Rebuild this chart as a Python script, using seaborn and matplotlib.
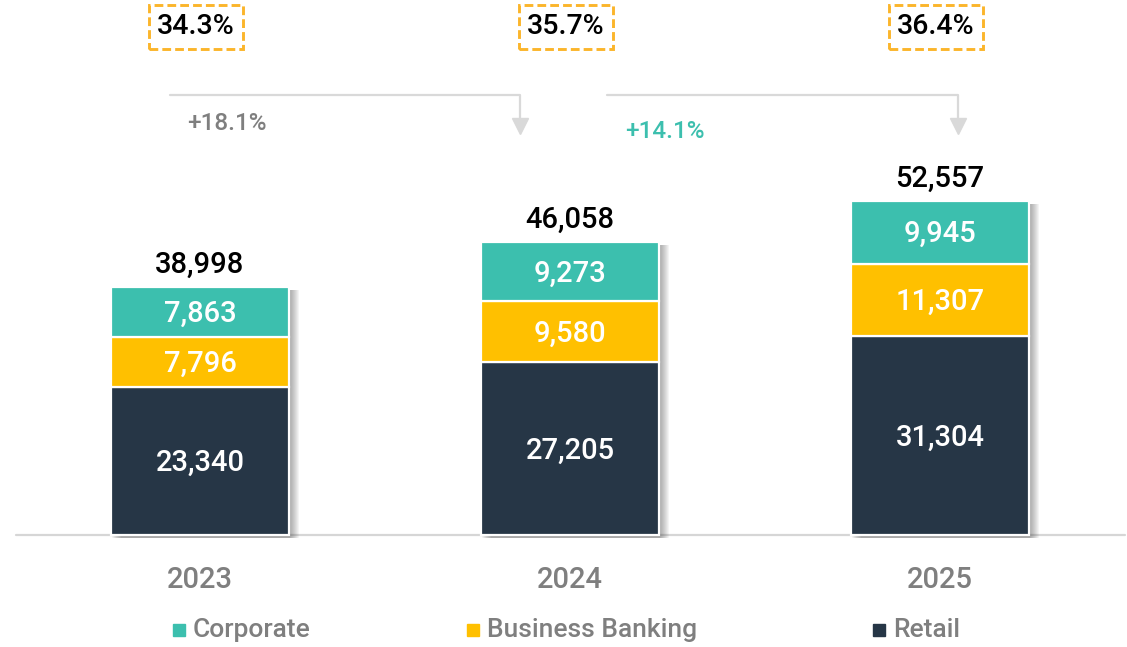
import matplotlib
matplotlib.use("Agg")
import matplotlib.pyplot as plt
import matplotlib.patheffects as pe
from matplotlib.lines import Line2D
from matplotlib.patches import Rectangle
import seaborn as sns

# ---- data -------------------------------------------------------------
years = ["2023", "2024", "2025"]
retail = [23340, 27205, 31304]
business_banking = [7796, 9580, 11307]
corporate = [7863, 9273, 9945]
totals = [38998, 46058, 52557]
share_labels = ["34.3%", "35.7%", "36.4%"]
growth_labels = ["+18.1%", "+14.1%"]
segments = ["Corporate", "Business Banking", "Retail"]

# ---- style ------------------------------------------------------------
sns.set_style("white")
plt.rcParams["font.family"] = ["Roboto", "DejaVu Sans"]

C_CORP = "#3CBFAE"
C_BB = "#FFC000"
C_RET = "#263646"
C_GRID = "#D6D6D6"
C_GREY = "#7F7F7F"
seg_colors = [C_CORP, C_BB, C_RET]

W, H = 1127, 647
fig = plt.figure(figsize=(W / 100, H / 100), dpi=100)
ax = fig.add_axes([0, 0, 1, 1])
ax.set_axis_off()


def fx(x):
    return x / W


def fy(y):
    return 1 - y / H


BAR_W = 0.481

# soft, blurred-looking shadow behind each full stack
sns.barplot(x=years, y=totals, order=years, color="white", width=BAR_W,
            errorbar=None, ax=ax, zorder=1, linewidth=0)
shadow = [pe.SimplePatchShadow(offset=(0.7 * k, -2.2), shadow_rgbFace="#404040", alpha=0.055)
          for k in range(1, 11)]
for p in ax.patches:
    p.set_path_effects(shadow + [pe.Normal()])

bottom_bb = retail
bottom_corp = [r + b for r, b in zip(retail, business_banking)]

bar_kw = dict(order=years, width=BAR_W, errorbar=None, ax=ax, zorder=2,
              edgecolor="white", linewidth=1.6, saturation=1)
sns.barplot(x=years, y=retail, color=C_RET, **bar_kw)
sns.barplot(x=years, y=business_banking, color=C_BB, bottom=bottom_bb, **bar_kw)
sns.barplot(x=years, y=corporate, color=C_CORP, bottom=bottom_corp, **bar_kw)

# map categories / values onto the canvas
units_per_px = 157.2
ax.set_xlim(-200 / 370, (W - 200) / 370)
ax.set_ylim(-112 * units_per_px, (H - 112) * units_per_px)
ax.set_xlabel("")
ax.set_ylabel("")

# baseline
ax.axhline(0, xmin=fx(16), xmax=fx(1125), color=C_GRID, lw=1.6, zorder=0)

# segment value labels, totals and category labels
for i in range(len(years)):
    segs = [(0, retail[i]), (retail[i], business_banking[i]), (bottom_corp[i], corporate[i])]
    for b, v in segs:
        ax.text(i, b + v / 2 - 2 * units_per_px, f"{v:,}", ha="center", va="center",
                color="white", fontsize=21, fontweight="medium", zorder=5)
    ax.annotate(f"{totals[i]:,}", (i, totals[i]), xytext=(0, 6), textcoords="offset points",
                ha="center", va="bottom", fontsize=21, fontweight="medium", color="black")
    ax.text(i, -45 * units_per_px, years[i], ha="center", va="center", fontsize=21,
            fontweight="medium", color=C_GREY)

# share boxes on top
for i, s in enumerate(share_labels):
    ax.text(i - 0.011, (H - 112 - 27) * units_per_px, s, ha="center", va="center",
            fontsize=20.5, fontweight="medium", color="black",
            bbox=dict(boxstyle="square,pad=0.3", fc="none", ec="#FBB52B", lw=2.1,
                      ls=(0, (3, 1.4))))

# growth connectors
connectors = [((170, 95), (520, 95), (520, 122)), ((607, 95), (958, 95), (958, 122))]
for pts in connectors:
    fig.add_artist(Line2D([fx(p[0]) for p in pts], [fy(p[1]) for p in pts],
                          transform=fig.transFigure, color="#D9D9D9", lw=1.6))
    fig.add_artist(Line2D([fx(pts[-1][0])], [fy(126)], transform=fig.transFigure,
                          marker="v", markersize=11, color="#D9D9D9", lw=0))
fig.text(fx(227), fy(124), growth_labels[0], ha="center", va="center", fontsize=17.5,
         fontweight="medium", color=C_GREY)
fig.text(fx(665), fy(131), growth_labels[1], ha="center", va="center", fontsize=17.5,
         fontweight="medium", color=C_CORP)

# legend row
legend_x = [173, 467, 873]
for x0, name, col in zip(legend_x, segments, seg_colors):
    fig.add_artist(Rectangle((fx(x0), fy(636)), fx(12), 12 / H, transform=fig.transFigure,
                             color=col))
    fig.text(fx(x0 + 20), fy(630), name, ha="left", va="center", fontsize=19,
             fontweight="medium", color=C_GREY)

fig.savefig("out.png", dpi=100)
